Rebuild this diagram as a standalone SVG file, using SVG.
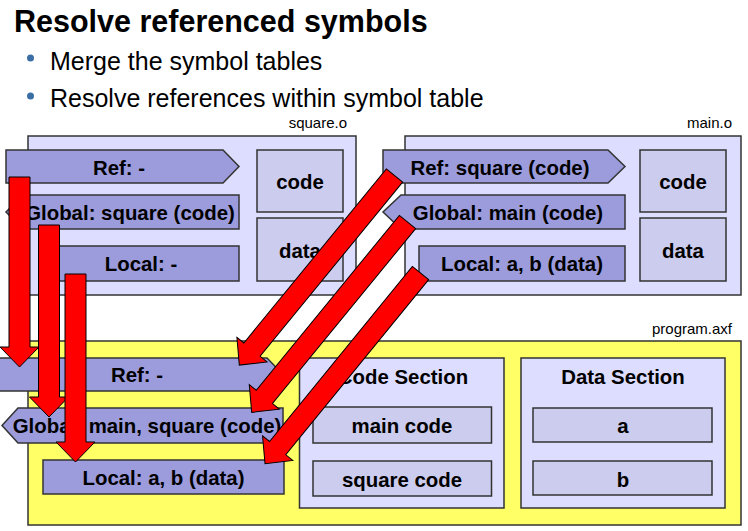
<svg xmlns="http://www.w3.org/2000/svg" width="748" height="531" viewBox="0 0 748 531">
<style>
text{font-family:"Liberation Sans",Arial,sans-serif;fill:#000}
.b{font-weight:bold;font-size:20.4px;text-anchor:middle}
.lbl{font-size:15px;text-anchor:end}
.obj{fill:#ddddff;stroke:#333;stroke-width:1.5}
.sym{fill:#9c9cdc;stroke:#333;stroke-width:1.5}
.sec{fill:#ccccee;stroke:#333;stroke-width:1.5}
.yel{fill:#ffff66;stroke:#333;stroke-width:1.5}
.arr{fill:#ff0000;stroke:#000;stroke-width:1}
</style>
<rect width="748" height="531" fill="#fff"/>
<g id="title">
<text x="14" y="32" font-size="30.5" font-weight="bold">Resolve referenced symbols</text>
<circle cx="30.5" cy="58" r="3.5" fill="#3b6ea5"/>
<text x="50" y="70" font-size="25">Merge the symbol tables</text>
<circle cx="30.5" cy="96" r="3.5" fill="#3b6ea5"/>
<text x="50" y="107" font-size="25">Resolve references within symbol table</text>
</g>
<g id="square_o">
<rect class="obj" x="28" y="136" width="328" height="159"/>
<text class="lbl" x="347" y="128">square.o</text>
<path class="sym" d="M6,150 H223 L239,166.5 L223,183 H6 Z"/>
<text class="b" x="119" y="175">Ref: -</text>
<path class="sym" d="M23,195 H239 V229 H23 L6,212 Z"/>
<text class="b" x="130" y="220">Global: square (code)</text>
<rect class="sym" x="43" y="246" width="196" height="35"/>
<text class="b" x="141" y="271">Local: -</text>
<rect class="sec" x="257" y="150" width="86" height="62"/>
<text class="b" x="300" y="189">code</text>
<rect class="sec" x="257" y="218" width="86" height="63"/>
<text class="b" x="300" y="258">data</text>
</g>
<g id="main_o">
<rect class="obj" x="405" y="136" width="336" height="159"/>
<text class="lbl" x="732" y="128">main.o</text>
<path class="sym" d="M383,150 H608 L625,166.5 L608,183 H383 Z"/>
<text class="b" x="500" y="175">Ref: square (code)</text>
<path class="sym" d="M401,195 H625 V229 H401 L383,212 Z"/>
<text class="b" x="508" y="220">Global: main (code)</text>
<rect class="sym" x="419" y="246" width="206" height="35"/>
<text class="b" x="522" y="271">Local: a, b (data)</text>
<rect class="sec" x="640" y="150" width="86" height="62"/>
<text class="b" x="683" y="189">code</text>
<rect class="sec" x="640" y="218" width="86" height="63"/>
<text class="b" x="683" y="258">data</text>
</g>
<g id="program_axf">
<rect class="yel" x="28" y="341" width="713" height="184"/>
<text class="lbl" x="732" y="334">program.axf</text>
<path class="sym" d="M-5,358 H267 L283,374.5 L267,391 H-5 Z"/>
<text class="b" x="137" y="382">Ref: -</text>
<path class="sym" d="M18,408 H283 V443 H18 L2,425.5 Z"/>
<text class="b" x="147" y="433">Global: main, square (code)</text>
<rect class="sym" x="43" y="460" width="241" height="34"/>
<text class="b" x="163.5" y="485">Local: a, b (data)</text>
</g>
<g id="code_section">
<rect class="obj" x="299.5" y="358" width="204.5" height="150"/>
<text class="b" x="403" y="384">Code Section</text>
<rect class="sec" x="313" y="407" width="178.5" height="36"/>
<text class="b" x="402" y="433">main code</text>
<rect class="sec" x="313" y="461" width="178.5" height="35"/>
<text class="b" x="402" y="487">square code</text>
</g>
<g id="data_section">
<rect class="obj" x="521" y="358" width="204" height="150"/>
<text class="b" x="623" y="384">Data Section</text>
<rect class="sec" x="533" y="408" width="179" height="34"/>
<text class="b" x="623" y="433">a</text>
<rect class="sec" x="533" y="461" width="179" height="34"/>
<text class="b" x="623" y="487">b</text>
</g>
<g id="connectors">
<path class="arr" transform="translate(19.5,177) rotate(90)" d="M0,-10.5 H170 V-19.5 L190,0 L170,19.5 V10.5 H0 Z"/>
<path class="arr" transform="translate(49,225) rotate(90)" d="M0,-10.5 H172 V-19.5 L192,0 L172,19.5 V10.5 H0 Z"/>
<path class="arr" transform="translate(75.5,274) rotate(90)" d="M0,-10.5 H168 V-19.5 L188,0 L168,19.5 V10.5 H0 Z"/>
<path class="arr" transform="translate(394.5,175.5) rotate(129.3)" d="M0,-10.5 H225 V-19.5 L245,0 L225,19.5 V10.5 H0 Z"/>
<path class="arr" transform="translate(407.5,222) rotate(129.3)" d="M0,-10.5 H226 V-19.5 L246,0 L226,19.5 V10.5 H0 Z"/>
<path class="arr" transform="translate(420.5,273) rotate(129.2)" d="M0,-10.5 H226 V-19.5 L246,0 L226,19.5 V10.5 H0 Z"/>
</g>
</svg>
